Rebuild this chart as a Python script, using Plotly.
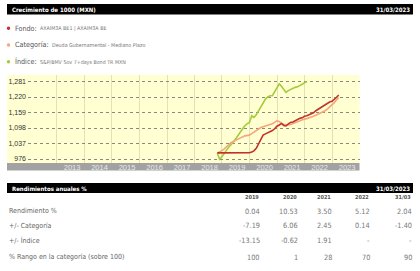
import pandas as pd
import plotly.graph_objects as go

W, H = 420, 271
FONT = "DejaVu Sans Condensed, Liberation Sans Narrow, Liberation Sans, Arial"

# ---------------- data ----------------
fund_dates = pd.date_range("2018-10-31", periods=54, freq="ME")
idx_dates = pd.date_range("2018-10-31", periods=40, freq="ME")

fondo = [1000, 1000, 1000,
         1000, 1000, 1000, 1000, 1000, 1000, 1000, 1000, 1000, 1000, 1000, 1000.4,
         1004, 1008, 1018, 1035, 1056, 1070, 1075, 1079, 1084, 1088, 1095, 1105,
         1110, 1116, 1108, 1106, 1114, 1120, 1122, 1127, 1130, 1136, 1138, 1144,
         1146, 1150, 1154, 1158, 1166, 1172, 1178, 1184, 1190, 1194, 1200, 1203,
         1210, 1218, 1228]

categoria = [1000, 1004, 1009,
             1016, 1024, 1032, 1040, 1045, 1050, 1055, 1059, 1063, 1067, 1069, 1070,
             1076, 1082, 1086, 1094, 1100, 1103, 1106, 1108, 1112, 1115, 1120, 1126,
             1124, 1116, 1113, 1112, 1110, 1112, 1116, 1120, 1124, 1127, 1130, 1133,
             1135, 1137, 1140, 1144, 1148, 1152, 1155, 1160, 1166, 1172, 1180, 1190,
             1198, 1208, 1218]

indice = [1000, 975, 985,
          1000, 1010, 1022, 1030, 1042, 1055, 1066, 1081, 1094, 1107, 1114, 1120,
          1146, 1140, 1150, 1166, 1180, 1200, 1212, 1220, 1225, 1225, 1240, 1258,
          1272, 1262, 1251, 1238, 1245, 1250, 1255, 1258, 1260, 1264, 1270, 1276,
          1281]

y_ticks = [976, 1037, 1098, 1159, 1220, 1281]
y_tick_labels = ["976", "1,037", "1,098", "1,159", "1,220", "1,281"]
year_labels = ["2013", "2014", "2015", "2016", "2017", "2018", "2019", "2020",
               "2021", "2022", "2023"]

legend_names = ["Fondo:", "Categoría:", "Índice:"]
legend_desc = ["AXAIM3A BE1 | AXAIM3A BE", "Deuda Gubernamental - Mediano Plazo",
               "S&P/BMV Sov 7+days Bond TR MXN"]
colors = ["#c4302b", "#f5a67c", "#a3cc3c"]

table_cols = ["2019", "2020", "2021", "2022", "31/03"]
row_labels = ["Rendimiento %", "+/- Categoría", "+/- Índice",
              "% Rango en la categoría (sobre 100)"]
rendimiento = ["0.04", "10.53", "3.50", "5.12", "2.04"]
mas_categoria = ["-7.19", "6.06", "2.45", "0.14", "-1.40"]
mas_indice = ["-13.15", "-0.62", "1.91", "-", "-"]
rango = ["100", "1", "28", "70", "90"]
table_values = [rendimiento, mas_categoria, mas_indice, rango]

title_chart = "Crecimiento de 1000 (MXN)"
title_table = "Rendimientos anuales %"
date_label = "31/03/2023"

# ---------------- helpers ----------------
def px(x):
    return x / W

def py(y):
    return 1 - y / H

fig = go.Figure()
series = [(fund_dates, fondo, colors[0]), (fund_dates, categoria, colors[1]),
          (idx_dates, indice, colors[2])]
for d, v, c in [series[2], series[1], series[0]]:
    fig.add_trace(go.Scatter(x=d, y=v, mode="lines",
                             line=dict(color=c, width=1.6), hoverinfo="skip"))

plot_left, plot_right, plot_top, plot_bot = 28, 359.5, 75, 163

year_mid = [pd.Timestamp(f"{y}-07-20") for y in year_labels]
year_start = [pd.Timestamp(f"{int(y)}-01-01") for y in year_labels] + [pd.Timestamp("2024-01-01")]

fig.update_layout(
    width=W, height=H, margin=dict(l=0, r=0, t=0, b=0),
    paper_bgcolor="white", plot_bgcolor="#ffffd2",
    showlegend=False,
    font=dict(family=FONT, size=7, color="#444"),
    xaxis=dict(domain=[px(plot_left), px(plot_right)], type="date",
               range=["2011-12-13", "2024-01-01"],
               tickvals=year_mid, ticktext=year_labels, showgrid=False,
               ticks="", tickfont=dict(size=7.5, color="#e8e8e8", family="Liberation Sans, Arial"),
               ticklabelstandoff=-2,
               minor=dict(tickvals=year_start, showgrid=True, gridcolor="#e4e2b4",
                          gridwidth=1),
               zeroline=False, showline=False, fixedrange=True),
    yaxis=dict(domain=[py(plot_bot), py(plot_top)], range=[960.3, 1306.6],
               tickvals=y_ticks, ticktext=y_tick_labels, showgrid=True,
               gridcolor="#8a8a7a", griddash="dot", gridwidth=1,
               ticks="", ticklabelstandoff=1,
               tickfont=dict(size=7, color="#333", family="Liberation Sans, Arial"),
               zeroline=False, showline=False, fixedrange=True),
)

shapes = []
shapes.append(dict(type="rect", xref="paper", yref="paper", x0=px(7), x1=px(plot_left),
                   y0=py(plot_bot), y1=py(plot_top), fillcolor="#ffffd2",
                   line=dict(width=0), layer="below"))
shapes.append(dict(type="rect", xref="paper", yref="paper", x0=px(7), x1=px(plot_right),
                   y0=py(170.5), y1=py(plot_bot), fillcolor="#a2a2a2",
                   line=dict(width=0), layer="below"))
for y0, y1 in [(4, 14.5), (183, 193)]:
    shapes.append(dict(type="rect", xref="paper", yref="paper", x0=px(7), x1=px(413),
                       y0=py(y1), y1=py(y0), fillcolor="black", line=dict(width=0)))
legend_y = [28.3, 45, 61.7]
for i, yy in enumerate(legend_y):
    shapes.append(dict(type="circle", xref="paper", yref="paper",
                       x0=px(6.8), x1=px(10.2), y0=py(yy + 1.7), y1=py(yy - 1.7),
                       fillcolor=colors[i], line=dict(width=0)))
fig.update_layout(shapes=shapes)

ann = []
def text(x, y, s, size=7, color="#555", anchor="left", bold=False, family=FONT):
    if bold:
        s = f"<b>{s}</b>"
    ann.append(dict(x=px(x), y=py(y), xref="paper", yref="paper", text=s,
                    showarrow=False, xanchor=anchor, yanchor="middle",
                    font=dict(size=size, color=color, family=family)))

text(10, 9.3, title_chart, 6, "white", bold=True)
text(412, 9.3, date_label, 6, "white", "right", bold=True)
text(10, 188, title_table, 6, "white", bold=True)
text(412, 188, date_label, 6, "white", "right", bold=True)

desc_x = [37.5, 50, 37.5]
for i, yy in enumerate(legend_y):
    text(12.5, yy, legend_names[i], 7.2, "#555")
    text(desc_x[i], yy + 0.3, legend_desc[i], 5.3, "#777")

col_right = [260.5, 298.5, 332.5, 371, 412.5]
for j, c in enumerate(table_cols):
    text(col_right[j], 197, c, 5.5, "#555", "right", bold=True)
row_y = [211, 225.5, 241, 257.3]
for i, lab in enumerate(row_labels):
    text(7, row_y[i], lab, 7, "#666")
    for j, v in enumerate(table_values[i]):
        text(col_right[j] + 1, row_y[i], v, 7.3, "#777", "right")

fig.update_layout(annotations=ann)
fig.write_html("out.html")
